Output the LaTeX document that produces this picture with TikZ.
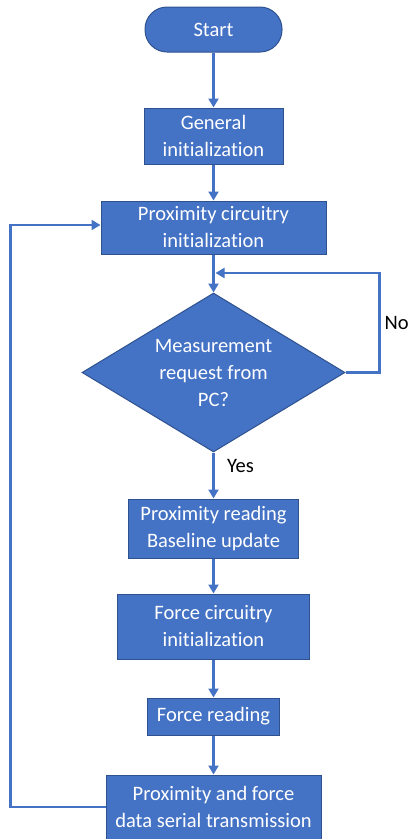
\documentclass[tikz,border=0pt]{standalone}
\usepackage{fontspec}
\setmainfont{Carlito}[Ligatures=NoCommon]
\usetikzlibrary{arrows.meta,shapes.geometric}
\definecolor{boxblue}{HTML}{4472C4}
\definecolor{edgeblue}{HTML}{2F528F}
\tikzset{
	stepbox/.style={draw=edgeblue, line width=1pt, fill=boxblue, text=white, align=center, inner sep=0pt, font=\fontsize{20.5}{27}\selectfont},
	flow/.style={draw=boxblue, line width=2.5pt, -{Triangle[length=9pt,width=10pt]}},
	lbl/.style={text=black, inner sep=0pt, font=\fontsize{20.5}{27}\selectfont}
}
\begin{document}
\begin{tikzpicture}[x=1pt, y=-1pt]
	\useasboundingbox (0,0) rectangle (409,839);

	\node[stepbox, rounded corners=22pt, minimum width=137pt, minimum height=45pt] (start) at (213.5,29.5) {Start};
	\node[stepbox, minimum width=139pt, minimum height=56pt] (gen) at (213.5,136) {General\\initialization};
	\node[stepbox, minimum width=225pt, minimum height=53pt] (prox) at (213.5,227.5) {Proximity circuitry\\initialization};
	\node[stepbox, diamond, aspect=1.65, minimum width=263pt, minimum height=159pt] (dec) at (213.5,372.5) {Measurement\\request from\\PC?};
	\node[stepbox, minimum width=170pt, minimum height=59pt] (read) at (213.5,528.5) {Proximity reading\\Baseline update};
	\node[stepbox, minimum width=192pt, minimum height=65pt] (force) at (213.5,626.5) {Force circuitry\\initialization};
	\node[stepbox, minimum width=132pt, minimum height=37pt] (fread) at (213.5,716.5) {Force reading};
	\node[stepbox, minimum width=215pt, minimum height=64pt] (send) at (213.5,807) {Proximity and force\\data serial transmission};

	\coordinate (merge) at (213.5,273);

	\draw[flow] (start) -- (gen);
	\draw[flow] (gen) -- (prox);
	\draw[flow] (prox) -- (dec);
	\draw[flow] (dec) -- (read);
	\draw[flow] (read) -- (force);
	\draw[flow] (force) -- (fread);
	\draw[flow] (fread) -- (send);
	\draw[flow] (dec.east) -- ++(34,0) |- ([xshift=2pt]merge);
	\draw[flow] (send.west) -- ++(-95,0) |- ([yshift=2.5pt]prox.west);

	\node[lbl, anchor=west] (no) at (384.5,323) {No};
	\node[lbl, anchor=west] (yes) at (227,466) {Yes};
\end{tikzpicture}
\end{document}
